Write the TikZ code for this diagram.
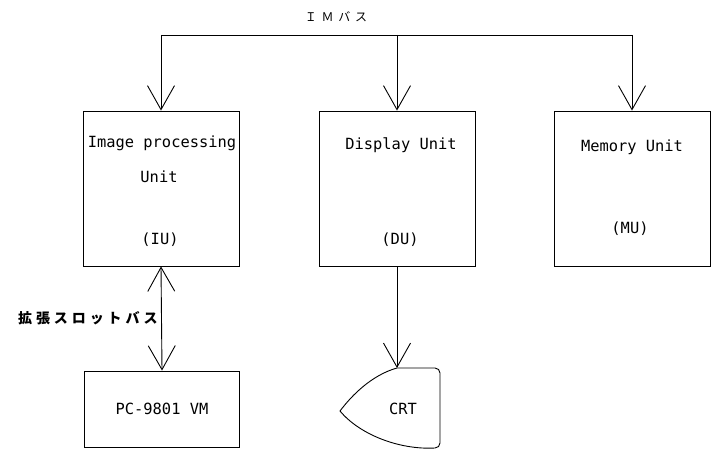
\documentclass[tikz,border=0pt]{standalone}
\usepackage{fontspec}
\setmonofont{DejaVu Sans Mono}
\newfontfamily\jpfont{Noto Sans CJK JP}
\usetikzlibrary{arrows.meta}

\begin{document}
\begin{tikzpicture}[x=1pt,y=-1pt,line width=0.9pt,
    >={Straight Barb[length=24pt,width=27pt,line width=0.9pt]},
    unit/.style={draw,rectangle,minimum width=156pt,minimum height=155pt,inner sep=0pt},
    lbl/.style={font=\ttfamily\fontsize{15.4}{18}\selectfont,inner sep=0pt}]
      \useasboundingbox (0,0) rectangle (717,454);

      % the three units on the IM bus
      \node (iu) [unit] at (161,188.5) {};
      \node (du) [unit] at (397,188.5) {};
      \node (mu) [unit] at (632,188.5) {};

      \node (iuname) [lbl] at (162,143) {Image processing};
      \node (iuunit) [lbl] at (159,177) {Unit};
      \node (iuabbr) [lbl] at (160,240) {(IU)};

      \node (duname) [lbl] at (401,145) {Display Unit};
      \node (duabbr) [lbl] at (400,240) {(DU)};

      \node (muname) [lbl] at (632,147) {Memory Unit};
      \node (muabbr) [lbl] at (630,229) {(MU)};

      % bus
      \coordinate (busl) at (161,35);
      \coordinate (busm) at (397,35);
      \coordinate (busr) at (632,35);
      \draw (busl) -- (busr);
      \node (bus) [inner sep=0pt,font=\jpfont\fontsize{12}{14}\selectfont\addfontfeature{LetterSpace=40}] at (336,17) {ＩＭバス};

      \draw[->] (busl) -- (iu.north);
      \draw[->] (busm) -- (du.north);
      \draw[->] (busr) -- (mu.north);

      % host computer
      \node (pc) [draw,rectangle,minimum width=155pt,minimum height=76pt,inner sep=0pt] at (162,409) {};
      \node (pcname) [lbl] at (162,409) {PC-9801 VM};
      \draw[<->] (iu.south) -- (pc.north);
      \node (slot) [anchor=east,inner sep=0pt,font=\jpfont\bfseries\fontsize{14}{16}\selectfont\addfontfeature{LetterSpace=28}] at (158,318) {拡張スロットバス};

      % monitor
      \coordinate (crt) at (397,368);
      \draw (crt) -- (435,368) to[out=0,in=90] (440,373) -- (440,443)
            to[out=-90,in=0] (435,448) .. controls (400,450) and (360,435) .. (340,411)
            .. controls (352,395) and (372,375) .. (crt);
      \node (crtname) [lbl] at (403,409) {CRT};
      \draw[->] (du.south) -- (crt);
    \end{tikzpicture}
\end{document}
